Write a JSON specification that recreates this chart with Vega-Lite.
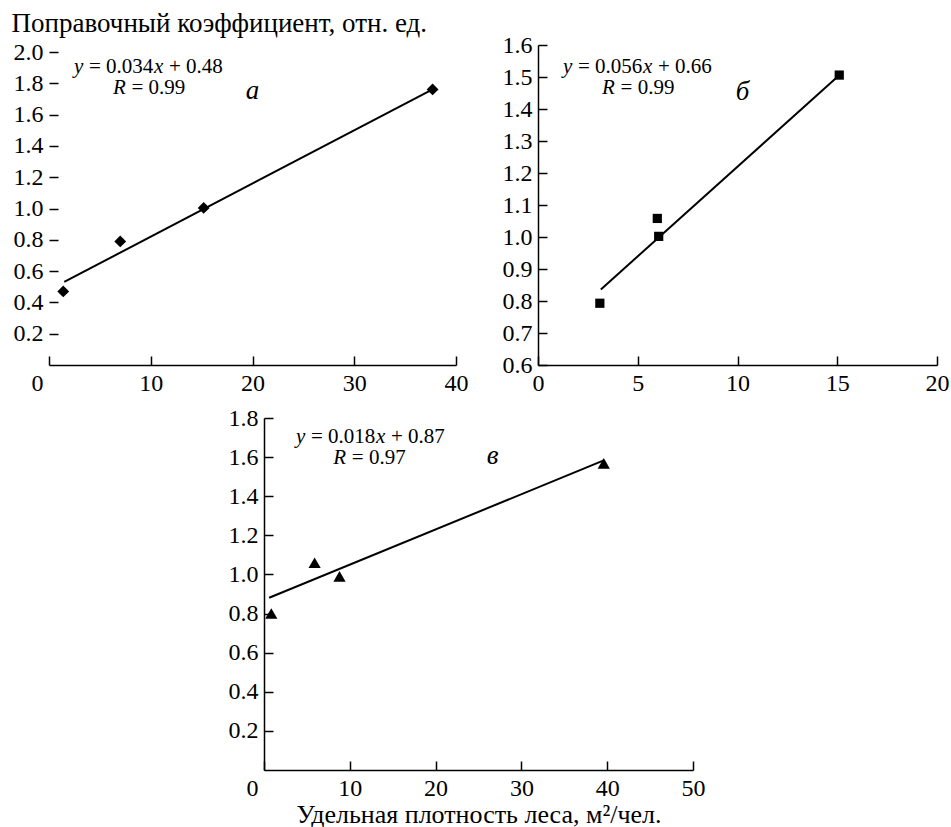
{
  "$schema": "https://vega.github.io/schema/vega-lite/v6.json",
  "padding": {"left": 11, "top": 9, "right": 0, "bottom": 0},
  "background": "white",
  "config": {
    "font": "Liberation Serif",
    "view": {"stroke": null},
    "axis": {
      "domainColor": "black", "domainWidth": 1.5,
      "tickColor": "black", "tickWidth": 1.5, "tickSize": -9, "tickCount": 30,
      "labelFont": "Liberation Serif", "labelFontSize": 24, "labelColor": "black",
      "labelPadding": 15, "labelFlush": false, "labelOverlap": false,
      "grid": false,
      "titleFont": "Liberation Serif", "titleFontSize": 26, "titleFontWeight": "normal", "titleColor": "black"
    }
  },
  "datasets": {
    "ptsA": [{"x": 1.4, "y": 0.47}, {"x": 7.0, "y": 0.79}, {"x": 15.2, "y": 1.004}, {"x": 37.7, "y": 1.761}],
    "fitA": [{"x": 1.5, "y": 0.531}, {"x": 37.7, "y": 1.762}],
    "eqA": [{"x": 2.46, "y": 1.866, "mid": "= 0.034", "tail": "+ 0.48", "rx": 6.29, "ry": 1.732, "r": "= 0.99", "lx": 20.0, "ly": 1.70, "letter": "а"}],
    "ptsB": [{"x": 3.1, "y": 0.793}, {"x": 5.98, "y": 1.058}, {"x": 6.05, "y": 1.002}, {"x": 15.1, "y": 1.506}],
    "fitB": [{"x": 3.15, "y": 0.836}, {"x": 15.0, "y": 1.5}],
    "eqB": [{"x": 1.25, "y": 1.5125, "mid": "= 0.056", "tail": "+ 0.66", "rx": 3.21, "ry": 1.447, "r": "= 0.99", "lx": 10.25, "ly": 1.428, "letter": "б"}],
    "ptsC": [{"x": 0.85, "y": 0.80}, {"x": 5.9, "y": 1.06}, {"x": 8.8, "y": 0.99}, {"x": 39.6, "y": 1.568}],
    "fitC": [{"x": 0.6, "y": 0.881}, {"x": 39.6, "y": 1.583}],
    "eqC": [{"x": 3.73, "y": 1.67, "mid": "= 0.018", "tail": "+ 0.87", "rx": 8.08, "ry": 1.567, "r": "= 0.97", "lx": 26.65, "ly": 1.564, "letter": "в"}]
  },
  "bounds": "full",
  "spacing": 11,
  "vconcat": [
    {
      "bounds": "flush",
      "spacing": 82,
      "hconcat": [
        {
          "width": 407, "height": 320,
          "layer": [
            {
              "mark": {"type": "rule", "color": "black", "strokeWidth": 1.5},
              "encoding": {
                "x": {"datum": 0, "type": "quantitative"},
                "y": {"datum": 0, "type": "quantitative"},
                "y2": {"datum": 2.0}
              }
            },
            {
              "data": {"name": "fitA"},
              "mark": {"type": "line", "color": "black", "strokeWidth": 2},
              "encoding": {
                "x": {"field": "x", "type": "quantitative", "scale": {"domain": [0, 40], "nice": false, "zero": false},
                  "axis": {"title": null, "values": [0, 10, 20, 30, 40], "format": "d", "tickCount": 30, "labelOverlap": false, "labelPadding": 15,
                    "labelOffset": {"condition": {"test": "datum.value == 0", "value": -12}, "value": 0}}},
                "y": {"field": "y", "type": "quantitative", "scale": {"domain": [0, 2.045], "nice": false},
                  "axis": {"domain": false, "values": [0.2, 0.4, 0.6, 0.8, 1.0, 1.2, 1.4, 1.6, 1.8, 2.0], "format": ".1f",
                    "tickCount": 30, "labelOverlap": false, "labelPadding": 15,
                    "title": "Поправочный коэффициент, отн. ед.", "titleFontSize": 27, "titleAngle": 0, "titleAlign": "left", "titleBaseline": "alphabetic",
                    "titleX": -38, "titleY": -14}}
              }
            },
            {
              "data": {"name": "ptsA"},
              "mark": {"type": "point", "shape": "diamond", "filled": true, "color": "black", "opacity": 1, "size": 140},
              "encoding": {"x": {"field": "x", "type": "quantitative"}, "y": {"field": "y", "type": "quantitative"}}
            },
            {
              "data": {"name": "eqA"},
              "layer": [
                {"mark": {"type": "text", "align": "left", "baseline": "alphabetic", "fontSize": 21, "fontStyle": "italic", "color": "black"},
                  "encoding": {"x": {"field": "x", "type": "quantitative"}, "y": {"field": "y", "type": "quantitative"}, "text": {"value": "y"}}},
                {"mark": {"type": "text", "align": "left", "baseline": "alphabetic", "fontSize": 21, "color": "black", "dx": 15},
                  "encoding": {"x": {"field": "x", "type": "quantitative"}, "y": {"field": "y", "type": "quantitative"}, "text": {"field": "mid"}}},
                {"mark": {"type": "text", "align": "left", "baseline": "alphabetic", "fontSize": 21, "fontStyle": "italic", "color": "black", "dx": 80},
                  "encoding": {"x": {"field": "x", "type": "quantitative"}, "y": {"field": "y", "type": "quantitative"}, "text": {"value": "x"}}},
                {"mark": {"type": "text", "align": "left", "baseline": "alphabetic", "fontSize": 21, "color": "black", "dx": 95},
                  "encoding": {"x": {"field": "x", "type": "quantitative"}, "y": {"field": "y", "type": "quantitative"}, "text": {"field": "tail"}}},
                {"mark": {"type": "text", "align": "left", "baseline": "alphabetic", "fontSize": 21, "fontStyle": "italic", "color": "black"},
                  "encoding": {"x": {"field": "rx", "type": "quantitative"}, "y": {"field": "ry", "type": "quantitative"}, "text": {"value": "R"}}},
                {"mark": {"type": "text", "align": "left", "baseline": "alphabetic", "fontSize": 21, "color": "black", "dx": 18.5},
                  "encoding": {"x": {"field": "rx", "type": "quantitative"}, "y": {"field": "ry", "type": "quantitative"}, "text": {"field": "r"}}},
                {"mark": {"type": "text", "align": "center", "baseline": "alphabetic", "fontSize": 27, "fontStyle": "italic", "color": "black"},
                  "encoding": {"x": {"field": "lx", "type": "quantitative"}, "y": {"field": "ly", "type": "quantitative"}, "text": {"field": "letter"}}}
              ]
            }
          ]
        },
        {
          "width": 399, "height": 320,
          "layer": [
            {
              "data": {"name": "fitB"},
              "mark": {"type": "line", "color": "black", "strokeWidth": 2},
              "encoding": {
                "x": {"field": "x", "type": "quantitative", "scale": {"domain": [0, 20], "nice": false, "zero": false},
                  "axis": {"title": null, "values": [0, 5, 10, 15, 20], "format": "d", "tickCount": 30, "labelOverlap": false, "labelPadding": 15}},
                "y": {"field": "y", "type": "quantitative", "scale": {"domain": [0.6, 1.6], "nice": false, "zero": false},
                  "axis": {"title": null, "values": [0.6, 0.7, 0.8, 0.9, 1.0, 1.1, 1.2, 1.3, 1.4, 1.5, 1.6], "format": ".1f",
                    "tickCount": 30, "labelOverlap": false, "labelPadding": 15}}
              }
            },
            {
              "data": {"name": "ptsB"},
              "mark": {"type": "point", "shape": "square", "filled": true, "color": "black", "opacity": 1, "size": 85},
              "encoding": {"x": {"field": "x", "type": "quantitative"}, "y": {"field": "y", "type": "quantitative"}}
            },
            {
              "data": {"name": "eqB"},
              "layer": [
                {"mark": {"type": "text", "align": "left", "baseline": "alphabetic", "fontSize": 21, "fontStyle": "italic", "color": "black"},
                  "encoding": {"x": {"field": "x", "type": "quantitative"}, "y": {"field": "y", "type": "quantitative"}, "text": {"value": "y"}}},
                {"mark": {"type": "text", "align": "left", "baseline": "alphabetic", "fontSize": 21, "color": "black", "dx": 15},
                  "encoding": {"x": {"field": "x", "type": "quantitative"}, "y": {"field": "y", "type": "quantitative"}, "text": {"field": "mid"}}},
                {"mark": {"type": "text", "align": "left", "baseline": "alphabetic", "fontSize": 21, "fontStyle": "italic", "color": "black", "dx": 80},
                  "encoding": {"x": {"field": "x", "type": "quantitative"}, "y": {"field": "y", "type": "quantitative"}, "text": {"value": "x"}}},
                {"mark": {"type": "text", "align": "left", "baseline": "alphabetic", "fontSize": 21, "color": "black", "dx": 95},
                  "encoding": {"x": {"field": "x", "type": "quantitative"}, "y": {"field": "y", "type": "quantitative"}, "text": {"field": "tail"}}},
                {"mark": {"type": "text", "align": "left", "baseline": "alphabetic", "fontSize": 21, "fontStyle": "italic", "color": "black"},
                  "encoding": {"x": {"field": "rx", "type": "quantitative"}, "y": {"field": "ry", "type": "quantitative"}, "text": {"value": "R"}}},
                {"mark": {"type": "text", "align": "left", "baseline": "alphabetic", "fontSize": 21, "color": "black", "dx": 18.5},
                  "encoding": {"x": {"field": "rx", "type": "quantitative"}, "y": {"field": "ry", "type": "quantitative"}, "text": {"field": "r"}}},
                {"mark": {"type": "text", "align": "center", "baseline": "alphabetic", "fontSize": 27, "fontStyle": "italic", "color": "black"},
                  "encoding": {"x": {"field": "lx", "type": "quantitative"}, "y": {"field": "ly", "type": "quantitative"}, "text": {"field": "letter"}}}
              ]
            }
          ]
        }
      ]
    },
    {
      "bounds": "flush",
      "spacing": 0,
      "hconcat": [
        {
          "width": 215, "height": 352,
          "data": {"values": []},
          "mark": {"type": "point", "opacity": 0}
        },
        {
          "width": 429, "height": 352,
          "layer": [
            {
              "data": {"name": "fitC"},
              "mark": {"type": "line", "color": "black", "strokeWidth": 2},
              "encoding": {
                "x": {"field": "x", "type": "quantitative", "scale": {"domain": [0, 50], "nice": false, "zero": false},
                  "axis": {"title": "Удельная плотность леса, м²/чел.", "titlePadding": 1, "values": [0, 10, 20, 30, 40, 50], "format": "d",
                    "tickCount": 30, "labelOverlap": false, "labelPadding": 15,
                    "labelOffset": {"condition": {"test": "datum.value == 0", "value": -12}, "value": 0}}},
                "y": {"field": "y", "type": "quantitative", "scale": {"domain": [0, 1.8], "nice": false},
                  "axis": {"title": null, "values": [0.2, 0.4, 0.6, 0.8, 1.0, 1.2, 1.4, 1.6, 1.8], "format": ".1f",
                    "tickCount": 30, "labelOverlap": false, "labelPadding": 15}}
              }
            },
            {
              "data": {"name": "ptsC"},
              "mark": {"type": "point", "shape": "triangle-up", "filled": true, "color": "black", "opacity": 1, "size": 150},
              "encoding": {"x": {"field": "x", "type": "quantitative"}, "y": {"field": "y", "type": "quantitative"}}
            },
            {
              "data": {"name": "eqC"},
              "layer": [
                {"mark": {"type": "text", "align": "left", "baseline": "alphabetic", "fontSize": 21, "fontStyle": "italic", "color": "black"},
                  "encoding": {"x": {"field": "x", "type": "quantitative"}, "y": {"field": "y", "type": "quantitative"}, "text": {"value": "y"}}},
                {"mark": {"type": "text", "align": "left", "baseline": "alphabetic", "fontSize": 21, "color": "black", "dx": 15},
                  "encoding": {"x": {"field": "x", "type": "quantitative"}, "y": {"field": "y", "type": "quantitative"}, "text": {"field": "mid"}}},
                {"mark": {"type": "text", "align": "left", "baseline": "alphabetic", "fontSize": 21, "fontStyle": "italic", "color": "black", "dx": 80},
                  "encoding": {"x": {"field": "x", "type": "quantitative"}, "y": {"field": "y", "type": "quantitative"}, "text": {"value": "x"}}},
                {"mark": {"type": "text", "align": "left", "baseline": "alphabetic", "fontSize": 21, "color": "black", "dx": 95},
                  "encoding": {"x": {"field": "x", "type": "quantitative"}, "y": {"field": "y", "type": "quantitative"}, "text": {"field": "tail"}}},
                {"mark": {"type": "text", "align": "left", "baseline": "alphabetic", "fontSize": 21, "fontStyle": "italic", "color": "black"},
                  "encoding": {"x": {"field": "rx", "type": "quantitative"}, "y": {"field": "ry", "type": "quantitative"}, "text": {"value": "R"}}},
                {"mark": {"type": "text", "align": "left", "baseline": "alphabetic", "fontSize": 21, "color": "black", "dx": 18.5},
                  "encoding": {"x": {"field": "rx", "type": "quantitative"}, "y": {"field": "ry", "type": "quantitative"}, "text": {"field": "r"}}},
                {"mark": {"type": "text", "align": "center", "baseline": "alphabetic", "fontSize": 27, "fontStyle": "italic", "color": "black"},
                  "encoding": {"x": {"field": "lx", "type": "quantitative"}, "y": {"field": "ly", "type": "quantitative"}, "text": {"field": "letter"}}}
              ]
            }
          ]
        }
      ]
    }
  ]
}
